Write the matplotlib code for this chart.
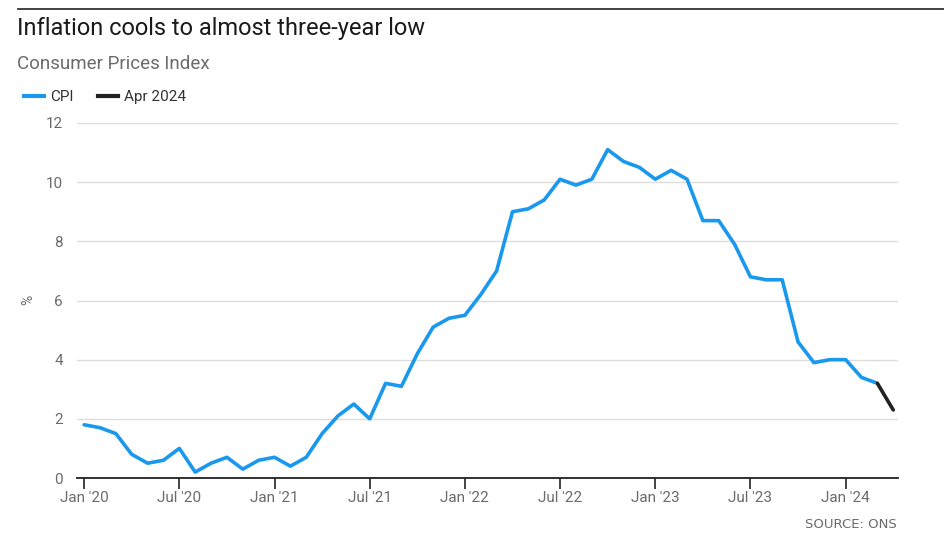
import numpy as np
import matplotlib.pyplot as plt
from matplotlib.lines import Line2D

plt.rcParams["font.family"] = ["Roboto", "DejaVu Sans"]

# UK CPI annual rate, Jan 2020 - Apr 2024 (%)
cpi = [1.8, 1.7, 1.5, 0.8, 0.5, 0.6, 1.0, 0.2, 0.5, 0.7, 0.3, 0.6,
       0.7, 0.4, 0.7, 1.5, 2.1, 2.5, 2.0, 3.2, 3.1, 4.2, 5.1, 5.4,
       5.5, 6.2, 7.0, 9.0, 9.1, 9.4, 10.1, 9.9, 10.1, 11.1, 10.7, 10.5,
       10.1, 10.4, 10.1, 8.7, 8.7, 7.9, 6.8, 6.7, 6.7, 4.6, 3.9, 4.0,
       4.0, 3.4, 3.2, 2.3]
tick_labels = ["Jan '20", "Jul '20", "Jan '21", "Jul '21", "Jan '22",
               "Jul '22", "Jan '23", "Jul '23", "Jan '24"]
y_ticks = [0, 2, 4, 6, 8, 10, 12]

blue = "#1a98ee"
dark = "#222222"
grey = "#6b6b6b"

months = np.arange(len(cpi))

fig = plt.figure(figsize=(9.45, 5.5), dpi=100)
ax = fig.add_axes([77 / 945, 1 - 478 / 550, 821 / 945, 355 / 550])

ax.plot(months[:-1], cpi[:-1], color=blue, lw=2.6, solid_joinstyle="round",
        solid_capstyle="round", zorder=3)
ax.plot(months[-2:], cpi[-2:], color=dark, lw=2.6, solid_capstyle="round",
        zorder=3)

ax.set_xlim(-0.45, 51.3)
ax.set_ylim(0, 12)
ax.set_yticks(y_ticks)
ax.set_yticklabels([str(v) for v in y_ticks])
ax.set_xticks(np.arange(0, 49, 6))
ax.set_xticklabels(tick_labels)

ax.grid(axis="y", color="#dddddd", lw=1)
ax.set_axisbelow(True)
for s in ["top", "right", "left"]:
    ax.spines[s].set_visible(False)
ax.spines["bottom"].set_color("#222222")
ax.spines["bottom"].set_linewidth(1.3)
ax.spines["bottom"].set_zorder(4)

ax.tick_params(axis="y", length=0, labelsize=11, labelcolor=grey, pad=10)
ax.tick_params(axis="x", length=8, width=1.2, color="#222222",
               labelsize=11, labelcolor=grey, pad=1)

fig.text(28 / 945, 1 - 300 / 550, "%", rotation=90, color=grey,
         fontsize=10, ha="center", va="center")

# header
fig.add_artist(Line2D([18 / 945, 1], [1 - 9 / 550, 1 - 9 / 550],
                      color="#222222", lw=1.2))
fig.text(17 / 945, 1 - 28 / 550, "Inflation cools to almost three-year low",
         fontsize=17, color="#1a1a1a", va="center", ha="left")
fig.text(17 / 945, 1 - 64 / 550, "Consumer Prices Index",
         fontsize=13.5, color=grey, va="center", ha="left")

handles = [Line2D([], [], color=blue, lw=3), Line2D([], [], color=dark, lw=3)]
fig.legend(handles, ["CPI", "Apr 2024"], loc="center left",
           bbox_to_anchor=(10 / 945, 1 - 97 / 550), ncol=2, frameon=False,
           handlelength=1.3, handletextpad=0.4, columnspacing=1.6,
           fontsize=11, labelcolor="#333333")

fig.text(897 / 945, 1 - 524 / 550, "SOURCE: ONS", fontsize=9.5, color=grey,
         ha="right", va="center", family="DejaVu Sans")

fig.savefig("out.png", dpi=100)
